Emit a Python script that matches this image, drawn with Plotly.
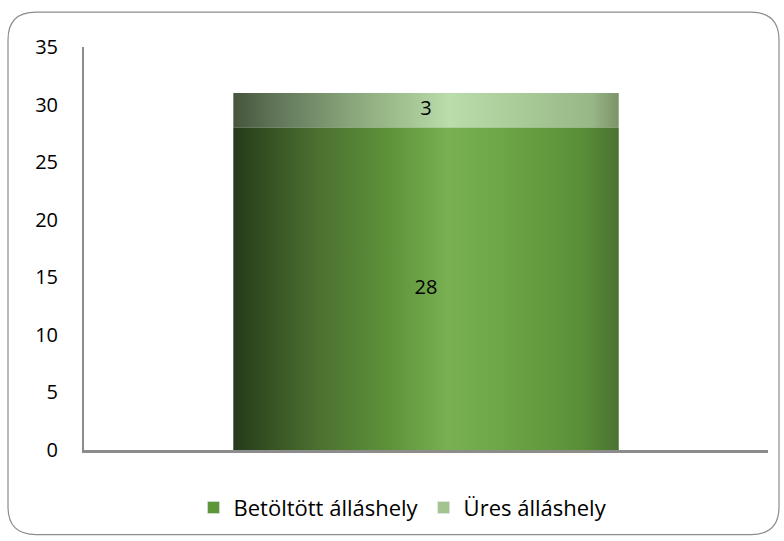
import plotly.graph_objects as go

categories = ["1"]
series_names = ["Betöltött álláshely", "Üres álláshely"]
betoltott = [28]
ures = [3]
y_ticks = [0, 5, 10, 15, 20, 25, 30, 35]

legend_colors = ["#5e963a", "#a3c48f"]
grad_bottom = [[0.0, "#243a18"], [0.06, "#2f4a20"], [0.2, "#496c2e"], [0.4, "#5e923a"],
               [0.56, "#78b052"], [0.7, "#6ca646"], [0.9, "#5a8f37"], [1.0, "#4a7231"]]
grad_top = [[0.0, "#46553c"], [0.1, "#5f7356"], [0.3, "#88a47a"], [0.45, "#a3c492"],
            [0.56, "#b9ddab"], [0.75, "#a8cb97"], [0.93, "#98b787"], [1.0, "#7c9368"]]

FONT = "Open Sans"
FS = 20
bar_w = 0.563

fig = go.Figure()
fig.add_trace(go.Bar(x=categories, y=betoltott, name=series_names[0], marker_color=legend_colors[0],
                     width=bar_w, hoverinfo="skip"))
fig.add_trace(go.Bar(x=categories, y=ures, name=series_names[1], marker_color=legend_colors[1],
                     width=bar_w, hoverinfo="skip"))

# gradient overlays derived from the data values
base = 0
for vals, cs in [(betoltott, grad_bottom), (ures, grad_top)]:
    v = vals[0]
    hx = bar_w / 2
    fig.add_trace(go.Scatter(x=[-hx, hx, hx, -hx, -hx], y=[base, base, base + v, base + v, base],
                             mode="lines", line=dict(width=0), fill="toself",
                             fillgradient=dict(type="horizontal", colorscale=cs),
                             xaxis="x2", showlegend=False, hoverinfo="skip"))
    base += v

# data labels
fig.add_trace(go.Scatter(x=[0, 0], y=[betoltott[0] / 2, betoltott[0] + ures[0] / 2],
                         text=[str(betoltott[0]), str(ures[0])], mode="text",
                         textfont=dict(family=FONT, size=FS, color="#000000"),
                         xaxis="x2", showlegend=False, hoverinfo="skip"))

# rounded border
L, R, T, B = 84, 768, 47, 452
def px(x):
    return (x - L) / (R - L)
def py(y):
    return (B - y) / (B - T)
x0, x1, y0, y1, r = 8, 779, 12, 537, 28
path = (f"M {px(x0 + r)},{py(y0)} L {px(x1 - r)},{py(y0)} Q {px(x1)},{py(y0)} {px(x1)},{py(y0 + r)} "
        f"L {px(x1)},{py(y1 - r)} Q {px(x1)},{py(y1)} {px(x1 - r)},{py(y1)} "
        f"L {px(x0 + r)},{py(y1)} Q {px(x0)},{py(y1)} {px(x0)},{py(y1 - r)} "
        f"L {px(x0)},{py(y0 + r)} Q {px(x0)},{py(y0)} {px(x0 + r)},{py(y0)} Z")
fig.add_shape(type="path", path=path, xref="paper", yref="paper",
              line=dict(color="#8c8c8c", width=1.2), layer="below")

fig.update_layout(
    width=784, height=541,
    margin=dict(l=L, r=784 - R, t=T, b=541 - B),
    paper_bgcolor="white", plot_bgcolor="white",
    barmode="stack",
    font=dict(family=FONT, size=FS, color="#000000"),
    showlegend=True,
    legend=dict(orientation="h", x=px(403), xanchor="center", y=py(510), yanchor="middle",
                font=dict(family=FONT, size=22, color="#000000"), itemwidth=30,
                traceorder="normal"),
    xaxis=dict(type="category", showticklabels=False, showgrid=False, zeroline=False,
               showline=True, linecolor="#8c8c8c", linewidth=2.5, ticks=""),
    xaxis2=dict(overlaying="x", range=[-0.5, 0.5], visible=False),
    yaxis=dict(range=[0, 35], tickvals=y_ticks, showgrid=False, zeroline=False,
               showline=True, linecolor="#8c8c8c", linewidth=2, ticks="",
               ticklabelstandoff=20, tickfont=dict(family=FONT, size=FS, color="#000000")),
)

fig.write_html("out.html", config={"displayModeBar": False},
               post_script="document.body.style.margin='0';")
